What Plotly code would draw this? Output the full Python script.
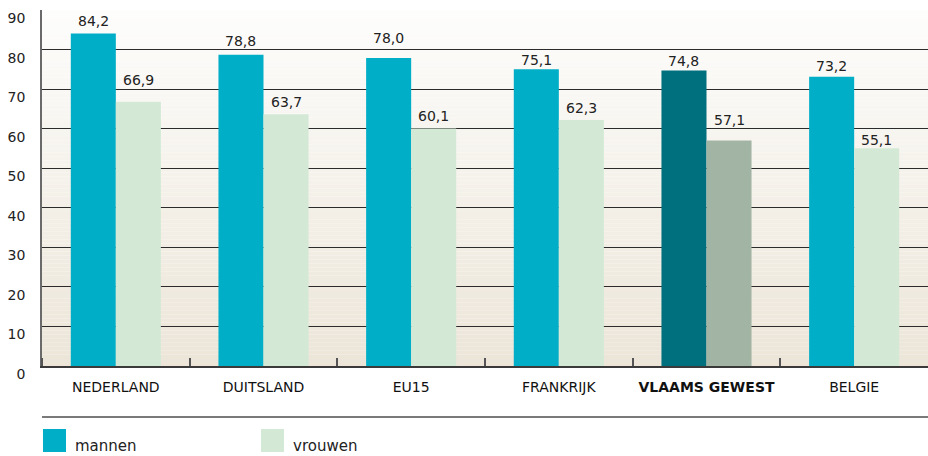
import plotly.graph_objects as go

categories = ["NEDERLAND", "DUITSLAND", "EU15", "FRANKRIJK", "VLAAMS GEWEST", "BELGIE"]
mannen = [84.2, 78.8, 78.0, 75.1, 74.8, 73.2]
vrouwen = [66.9, 63.7, 60.1, 62.3, 57.1, 55.1]
y_ticks = [0, 10, 20, 30, 40, 50, 60, 70, 80, 90]
highlight = "VLAAMS GEWEST"

# label gap (px) between bar top and label baseline, as drawn in the original (style)
gap_m = [6, 8, 14, 3, 4, 5]
gap_v = [16, 6, 7, 6, 14, 2]

C_M, C_V = "#00aec7", "#d3e9d6"
C_MH, C_VH = "#006f7e", "#a2b4a4"

FONT = "DejaVu Sans"
x_idx = list(range(len(categories)))
m_colors = [C_MH if c == highlight else C_M for c in categories]
v_colors = [C_VH if c == highlight else C_V for c in categories]
tick_text = [f"<b>{c}</b>" if c == highlight else c for c in categories]

fig = go.Figure()
fig.add_trace(go.Bar(x=x_idx, y=mannen, name="mannen", marker=dict(color=m_colors, line=dict(width=0)),
                     offsetgroup="m", hoverinfo="skip"))
fig.add_trace(go.Bar(x=x_idx, y=vrouwen, name="vrouwen", marker=dict(color=v_colors, line=dict(width=0)),
                     offsetgroup="v", hoverinfo="skip"))

BAR_OFF = 0.1525  # half of a bar width in category units (bargap 0.39, 2 bars)

def fmt(v):
    return f"{v:.1f}".replace(".", ",")

annotations = []
for i, (m, v) in enumerate(zip(mannen, vrouwen)):
    annotations.append(dict(x=i - BAR_OFF, y=m, xref="x", yref="y", text=fmt(m), showarrow=False,
                            yanchor="middle", yshift=gap_m[i] + 6,
                            font=dict(family=FONT, size=14, color="#222")))
    annotations.append(dict(x=i + BAR_OFF, y=v, xref="x", yref="y", text=fmt(v), showarrow=False,
                            yanchor="middle", yshift=gap_v[i] + 6,
                            font=dict(family=FONT, size=14, color="#222")))

# background gradient strips (styling)
shapes = []
top = (253, 253, 252)
bot = (236, 229, 216)
N = 90
for i in range(N):
    t = (i + 0.5) / N  # 0 at bottom
    col = tuple(round(bot[k] + (top[k] - bot[k]) * t) for k in range(3))
    shapes.append(dict(type="rect", xref="paper", yref="y", x0=0, x1=1,
                       y0=90 * i / N, y1=90 * (i + 1) / N, layer="below",
                       line=dict(width=0), fillcolor="rgb(%d,%d,%d)" % col))

H = 356.0
W = 886.0
def py(pix):
    return (366 - pix) / H
def px(pix):
    return (pix - 42) / W

# legend separator line
shapes.append(dict(type="line", xref="paper", yref="paper", x0=0, x1=1, y0=py(417), y1=py(417),
                   line=dict(color="#7a7a7a", width=2)))
# legend swatches
shapes.append(dict(type="rect", xref="paper", yref="paper", x0=px(43), x1=px(66), y0=py(452), y1=py(429),
                   line=dict(width=0), fillcolor=C_M))
shapes.append(dict(type="rect", xref="paper", yref="paper", x0=px(261), x1=px(284), y0=py(452), y1=py(429),
                   line=dict(width=0), fillcolor=C_V))

annotations += [
    dict(xref="paper", yref="paper", x=px(73), y=py(446), text="mannen", showarrow=False,
         xanchor="left", yanchor="middle", font=dict(family=FONT, size=15, color="#222")),
    dict(xref="paper", yref="paper", x=px(291), y=py(446), text="vrouwen", showarrow=False,
         xanchor="left", yanchor="middle", font=dict(family=FONT, size=15, color="#222")),
]

fig.update_layout(
    width=928, height=456,
    margin=dict(l=42, r=0, t=10, b=90, autoexpand=False),
    paper_bgcolor="white", plot_bgcolor="white",
    barmode="group", bargap=0.39, bargroupgap=0,
    showlegend=False, hovermode=False,
    shapes=shapes, annotations=annotations,
    xaxis=dict(range=[-0.5, 5.5], tickmode="array", tickvals=x_idx, ticktext=tick_text,
               showgrid=False, zeroline=False, showline=True, linecolor="#3a3a3a", linewidth=2,
               ticks="", ticklabelstandoff=7,
               tickfont=dict(family=FONT, size=14, color="#111"),
               minor=dict(tickmode="array", tickvals=[-0.5, 0.5, 1.5, 2.5, 3.5, 4.5],
                          ticks="inside", ticklen=8, tickwidth=1.5, tickcolor="#555", showgrid=False)),
    yaxis=dict(range=[0, 90.12], tickmode="array", tickvals=y_ticks, ticktext=[str(v) for v in y_ticks],
               showgrid=True, gridcolor="#2b2b2b", gridwidth=1, zeroline=False,
               showline=True, linecolor="#6a6a6a", linewidth=1.5,
               ticks="", ticklabelstandoff=12, ticklabelshift=8, ticklabeloverflow="allow",
               tickfont=dict(family=FONT, size=14, color="#222")),
)

fig.write_html("out.html", config={"displayModeBar": False},
               post_script="document.body.style.margin='0';document.body.style.overflow='hidden';")
